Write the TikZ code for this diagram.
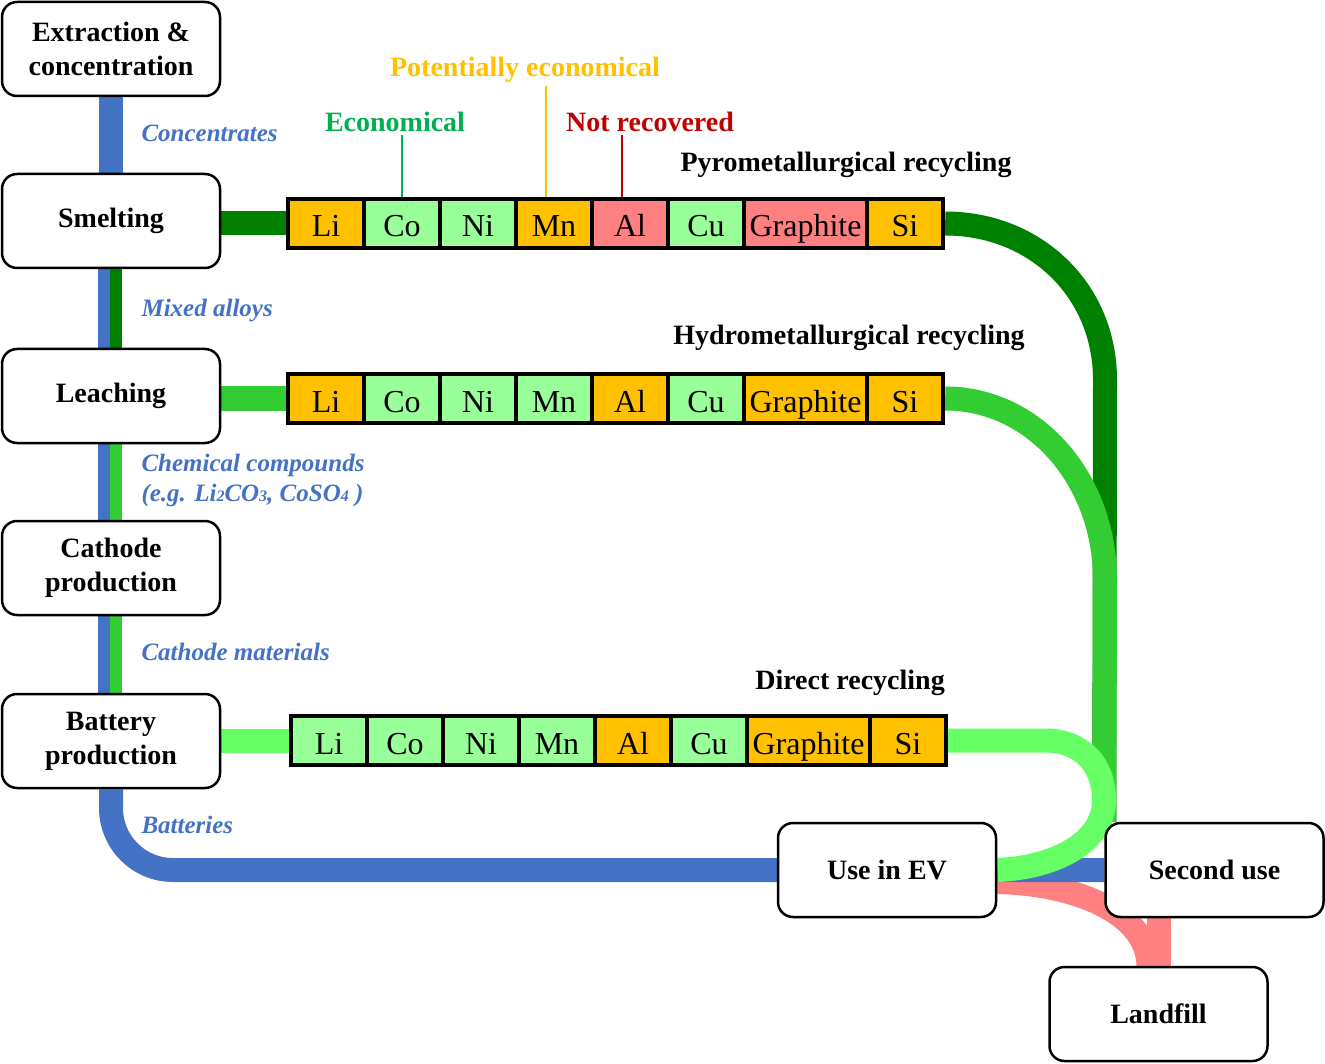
\documentclass[tikz,border=0pt]{standalone}
\usepackage{fontspec}
\setmainfont{Liberation Serif}
\usetikzlibrary{backgrounds}

\definecolor{flowblue}{HTML}{4472C4}
\definecolor{pyrogreen}{HTML}{008000}
\definecolor{hydrogreen}{HTML}{33CC33}
\definecolor{directgreen}{HTML}{66FF66}
\definecolor{cellorange}{HTML}{FFC000}
\definecolor{cellgreen}{HTML}{99FF99}
\definecolor{cellred}{HTML}{FF8080}
\definecolor{econgreen}{HTML}{00B050}
\definecolor{notred}{HTML}{C00000}

\tikzset{
  stage/.style={draw, fill=white, line width=2.5pt, rounded corners=15pt, minimum width=218pt, minimum height=94pt, align=center, font=\bfseries\fontsize{28}{34}\selectfont},
  flow/.style={line width=24pt},
  halfflow/.style={line width=12pt},
  rowbar/.style={fill=black, minimum width=659pt, minimum height=53pt, inner sep=0pt},
  cell/.style={minimum height=45pt, inner sep=0pt, anchor=west, text height=27pt, text depth=0pt, font=\fontsize{32}{32}\selectfont},
  flowlabel/.style={anchor=west, text=flowblue, align=left, font=\bfseries\itshape\fontsize{25}{30}\selectfont},
  title/.style={font=\bfseries\fontsize{28}{34}\selectfont},
  leader/.style={line width=1.2pt},
}

\begin{document}
\begin{tikzpicture}[x=1pt, y=-1pt]
        \useasboundingbox (0,0) rectangle (1325,1064);
        \def\sm#1{{\fontsize{16}{16}\selectfont #1}}

        % Process chain on the left
        \node[stage] (extract) at (111,49) {Extraction \&\\concentration};
        \node[stage] (smelt) at (111,221) {Smelting};
        \node[stage] (leach) at (111,396) {Leaching};
        \node[stage] (cathode) at (111,568) {Cathode\\production};
        \node[stage] (battery) at (111,741) {Battery\\production};

        % End of life
        \node[stage] (ev) at (887,870) {Use in EV};
        \node[stage] (second) at (1214.5,870) {Second use};
        \node[stage] (landfill) at (1158.5,1014) {Landfill};

        % Pyrometallurgical row
        \node[rowbar] (pyro) at (615.5,223.5) {};
        \foreach \x/\el/\col/\w in {4pt/Li/cellorange/72pt, 80pt/Co/cellgreen/72pt, 156pt/Ni/cellgreen/72pt, 232pt/Mn/cellorange/72pt, 308pt/Al/cellred/72pt, 384pt/Cu/cellgreen/72pt, 460pt/Graphite/cellred/119pt, 583pt/Si/cellorange/72pt}
            \node[cell, fill=\col, minimum width=\w] (pyro-\el) at ([xshift=\x]pyro.west) {\el};

        % Hydrometallurgical row
        \node[rowbar] (hydro) at (615.5,398.5) {};
        \foreach \x/\el/\col/\w in {4pt/Li/cellorange/72pt, 80pt/Co/cellgreen/72pt, 156pt/Ni/cellgreen/72pt, 232pt/Mn/cellgreen/72pt, 308pt/Al/cellorange/72pt, 384pt/Cu/cellgreen/72pt, 460pt/Graphite/cellorange/119pt, 583pt/Si/cellorange/72pt}
            \node[cell, fill=\col, minimum width=\w] (hydro-\el) at ([xshift=\x]hydro.west) {\el};

        % Direct row
        \node[rowbar] (direct) at (618.5,740.5) {};
        \foreach \x/\el/\col/\w in {4pt/Li/cellgreen/72pt, 80pt/Co/cellgreen/72pt, 156pt/Ni/cellgreen/72pt, 232pt/Mn/cellgreen/72pt, 308pt/Al/cellorange/72pt, 384pt/Cu/cellgreen/72pt, 460pt/Graphite/cellorange/119pt, 583pt/Si/cellorange/72pt}
            \node[cell, fill=\col, minimum width=\w] (direct-\el) at ([xshift=\x]direct.west) {\el};

        % Titles
        \node[title] (pyrotitle) at (846,165) {Pyrometallurgical recycling};
        \node[title] (hydrotitle) at (849,338) {Hydrometallurgical recycling};
        \node[title] (directtitle) at (850,683) {Direct recycling};

        % Legend
        \node[title, text=econgreen] (econ) at (395,122) {Economical};
        \node[title, text=cellorange] (poteco) at (525,70) {Potentially economical};
        \node[title, text=notred] (notrec) at (650,122) {Not recovered};
        \draw[leader, econgreen] (pyro-Co.north |- econ.south) -- (pyro-Co.north |- pyro.north);
        \draw[leader, cellorange] ([xshift=-8pt]pyro-Mn.north |- poteco.south) -- ([xshift=-8pt]pyro-Mn.north |- pyro.north);
        \draw[leader, notred] ([xshift=-8pt]pyro-Al.north |- notrec.south) -- ([xshift=-8pt]pyro-Al.north |- pyro.north);

        % Flow labels
        \node[flowlabel] (conc) at (138,133) {Concentrates};
        \node[flowlabel] (alloys) at (138,311) {Mixed alloys};
        \node[flowlabel] (compounds) at (138,480) {Chemical compounds\\(e.g. Li\sm{2}CO\sm{3}, CoSO\sm{4} )};
        \node[flowlabel] (cathmat) at (138,652) {Cathode materials};
        \node[flowlabel] (batts) at (138,825) {Batteries};

        \begin{scope}[on background layer]
            % Landfill
            \draw[flow, cellred] ([yshift=-12pt]ev.east) .. controls (1080,884) and (1148,915) .. ([xshift=-10pt]landfill.north);
            \draw[flow, cellred] (landfill.north |- second.south) -- (landfill.north);
            % Recycling loops
            \draw[flow, pyrogreen] (pyro.east) .. controls (1035,223.5) and (1105,290) .. (1105,380) -- (second.north west);
            \draw[flow, hydrogreen] (hydro.east) .. controls (1035,398.5) and (1105,480) .. (1105,580) -- (second.north west);
            % Batteries
            \draw[flow, flowblue, rounded corners=62pt] (battery.south) |- (second.west);
            \draw[flow, directgreen] (direct.east) -- (1045,740.5) .. controls (1082,740.5) and (1104,765) .. (1104,800) .. controls (1104,845) and (1050,868) .. (ev.east);
            % Chain
            \draw[flow, flowblue] (extract.south) -- (smelt.north);
            \draw[halfflow, flowblue] ([xshift=-7pt]smelt.south) -- ([xshift=-7pt]leach.north);
            \draw[halfflow, pyrogreen] ([xshift=5pt]smelt.south) -- ([xshift=5pt]leach.north);
            \draw[halfflow, flowblue] ([xshift=-7pt]leach.south) -- ([xshift=-7pt]cathode.north);
            \draw[halfflow, hydrogreen] ([xshift=5pt]leach.south) -- ([xshift=5pt]cathode.north);
            \draw[halfflow, flowblue] ([xshift=-7pt]cathode.south) -- ([xshift=-7pt]battery.north);
            \draw[halfflow, hydrogreen] ([xshift=5pt]cathode.south) -- ([xshift=5pt]battery.north);
            % Rows
            \draw[flow, pyrogreen] (smelt.east |- pyro.west) -- (pyro.west);
            \draw[flow, hydrogreen] (leach.east |- hydro.west) -- (hydro.west);
            \draw[flow, directgreen] (battery.east |- direct.west) -- (direct.west);
        \end{scope}
    \end{tikzpicture}
\end{document}
